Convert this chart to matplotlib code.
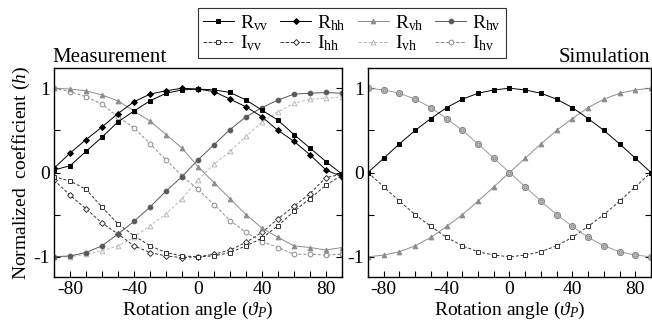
import matplotlib
matplotlib.use("Agg")
import matplotlib.pyplot as plt
from matplotlib.lines import Line2D

plt.rcParams['font.family'] = ['Liberation Serif', 'DejaVu Serif']
plt.rcParams['mathtext.fontset'] = 'custom'
plt.rcParams['mathtext.rm'] = 'Liberation Serif'
plt.rcParams['mathtext.it'] = 'Liberation Serif:italic'
plt.rcParams['axes.unicode_minus'] = False

angles = [-90, -80, -70, -60, -50, -40, -30, -20, -10, 0, 10, 20, 30, 40, 50, 60, 70, 80, 90]

# Measurement
m_Rvv = [0.03, 0.08, 0.25, 0.42, 0.60, 0.73, 0.85, 0.94, 0.98, 0.99, 0.98, 0.95, 0.86, 0.74, 0.62, 0.45, 0.29, 0.13, -0.02]
m_Rhh = [0.05, 0.23, 0.39, 0.54, 0.70, 0.84, 0.93, 0.97, 1.00, 0.99, 0.96, 0.87, 0.78, 0.66, 0.50, 0.37, 0.21, 0.03, -0.05]
m_Rvh = [1.00, 0.99, 0.97, 0.92, 0.85, 0.73, 0.61, 0.45, 0.29, 0.07, -0.12, -0.31, -0.50, -0.66, -0.77, -0.87, -0.89, -0.92, -0.89]
m_Rhv = [-1.00, -0.99, -0.95, -0.87, -0.73, -0.58, -0.41, -0.22, -0.05, 0.15, 0.33, 0.51, 0.66, 0.77, 0.86, 0.93, 0.94, 0.95, 0.94]
m_Ivv = [-0.05, -0.10, -0.20, -0.41, -0.61, -0.75, -0.87, -0.95, -0.99, -1.00, -0.99, -0.95, -0.87, -0.78, -0.63, -0.46, -0.31, -0.15, -0.03]
m_Ihh = [-0.09, -0.27, -0.43, -0.60, -0.73, -0.87, -0.95, -0.99, -1.01, -1.00, -0.97, -0.92, -0.83, -0.71, -0.55, -0.40, -0.25, -0.06, -0.02]
m_Ivh = [-1.00, -1.00, -0.97, -0.93, -0.87, -0.77, -0.63, -0.49, -0.31, -0.09, 0.10, 0.25, 0.43, 0.60, 0.72, 0.82, 0.87, 0.88, 0.90]
m_Ihv = [1.00, 0.96, 0.90, 0.81, 0.66, 0.53, 0.34, 0.15, -0.04, -0.20, -0.38, -0.57, -0.71, -0.82, -0.89, -0.97, -0.97, -0.98, -0.97]

# Simulation
s_Rvv = [0.00, 0.17, 0.34, 0.50, 0.64, 0.77, 0.87, 0.94, 0.98, 1.00, 0.98, 0.94, 0.87, 0.77, 0.64, 0.50, 0.34, 0.17, 0.00]
s_Ivv = [0.00, -0.17, -0.34, -0.50, -0.64, -0.77, -0.87, -0.94, -0.98, -1.00, -0.98, -0.94, -0.87, -0.77, -0.64, -0.50, -0.34, -0.17, 0.00]
s_Rvh = [-1.00, -0.98, -0.94, -0.87, -0.77, -0.64, -0.50, -0.34, -0.17, 0.00, 0.17, 0.34, 0.50, 0.64, 0.77, 0.87, 0.94, 0.98, 1.00]
s_Rhv = [1.00, 0.98, 0.94, 0.87, 0.77, 0.64, 0.50, 0.34, 0.17, 0.00, -0.17, -0.34, -0.50, -0.64, -0.77, -0.87, -0.94, -0.98, -1.00]

xticks = [-80, -40, 0, 40, 80]
xticklabels = ['-80', '-40', '0', '40', '80']
yticks = [-1, 0, 1]
yticklabels = ['-1', '0', '1']

C_RVH = '#8c8c8c'
C_RHV = '#5a5a5a'
C_IVH = '#b8b8b8'
C_IHV = '#8a8a8a'

styles = {
    'Rvv': dict(color='black', ls='-', marker='s', mfc='black', mec='black'),
    'Rhh': dict(color='black', ls='-', marker='D', mfc='black', mec='black', ms=3.0),
    'Rvh': dict(color=C_RVH, ls='-', marker='^', mfc=C_RVH, mec=C_RVH),
    'Rhv': dict(color=C_RHV, ls='-', marker='o', mfc=C_RHV, mec=C_RHV),
    'Ivv': dict(color='#333333', ls='--', marker='s', mfc='white', mec='#333333'),
    'Ihh': dict(color='#333333', ls='--', marker='D', mfc='white', mec='#333333', ms=3.0),
    'Ivh': dict(color=C_IVH, ls='--', marker='^', mfc='white', mec=C_IVH),
    'Ihv': dict(color=C_IHV, ls='--', marker='o', mfc='white', mec=C_IHV),
}
base = dict(lw=0.7, ms=3.4, mew=0.7, dashes=(3, 2))

fig = plt.figure(figsize=(6.52, 3.29), dpi=100)
ax1 = fig.add_axes([54/652, 52/329, 288/652, 209/329])
ax2 = fig.add_axes([368/652, 52/329, 283/652, 209/329])

def st(name):
    d = dict(base)
    d.update(styles[name])
    if d['ls'] == '-':
        d.pop('dashes')
    return d

for name, vals in [('Ihv', m_Ihv), ('Ivh', m_Ivh), ('Ihh', m_Ihh), ('Ivv', m_Ivv),
                   ('Rhv', m_Rhv), ('Rvh', m_Rvh), ('Rvv', m_Rvv), ('Rhh', m_Rhh)]:
    ax1.plot(angles, vals, **st(name))

ax2.plot(angles, s_Ivv, **st('Ivv'))
ax2.plot(angles, s_Rvh, **st('Rvh'))
ax2.plot(angles, s_Rhv, color='#9a9a9a', ls='-', lw=0.7, marker='o', ms=4.4,
         mfc='#c8c8c8', mec='#808080', mew=0.7)
ax2.plot(angles, s_Rhv, ls='none', marker='o', ms=2.2, mfc='none', mec='#8a8a8a', mew=0.6)
ax2.plot(angles, s_Rvv, **st('Rvv'))

for ax in (ax1, ax2):
    ax.set_xlim(-90, 90)
    ax.set_ylim(-1.24, 1.24)
    ax.set_xticks(xticks)
    ax.set_xticklabels(xticklabels)
    ax.set_xticks(range(-90, 91, 10), minor=True)
    ax.set_yticks(yticks)
    ax.set_yticklabels(yticklabels)
    ax.set_yticks([-0.5, 0.5], minor=True)
    ax.tick_params(axis='both', which='both', direction='in', labelsize=14,
                   length=4, width=0.8, pad=3)
    ax.tick_params(axis='y', which='both', right=True)
    for sp in ax.spines.values():
        sp.set_linewidth(1.0)
    ax.set_xlabel(r'Rotation angle ($\vartheta_{P}$)', fontsize=14, labelpad=1)

ax1.set_ylabel('Normalized  coefficient ($\\mathit{h}$)', fontsize=14, labelpad=1)

fig.text(52/652, 1 - 62/329, 'Measurement', fontsize=15, ha='left', va='baseline')
fig.text(650/652, 1 - 62/329, 'Simulation', fontsize=15, ha='right', va='baseline')

order = ['Rvv', 'Ivv', 'Rhh', 'Ihh', 'Rvh', 'Ivh', 'Rhv', 'Ihv']
labels = {'Rvv': r'R$_{\mathrm{vv}}$', 'Rhh': r'R$_{\mathrm{hh}}$', 'Rvh': r'R$_{\mathrm{vh}}$',
          'Rhv': r'R$_{\mathrm{hv}}$', 'Ivv': r'I$_{\mathrm{vv}}$', 'Ihh': r'I$_{\mathrm{hh}}$',
          'Ivh': r'I$_{\mathrm{vh}}$', 'Ihv': r'I$_{\mathrm{hv}}$'}
handles = [Line2D([], [], **st(n)) for n in order]
leg = fig.legend(handles, [labels[n] for n in order], ncol=4, loc='upper left',
                 bbox_to_anchor=(198/652, 1 - 8/329), fontsize=14, frameon=True,
                 fancybox=False, edgecolor='black', handlelength=1.6, handletextpad=0.3,
                 columnspacing=0.6, labelspacing=0.05, borderpad=0.25, borderaxespad=0)
leg.get_frame().set_linewidth(0.8)

fig.savefig('out.png', dpi=100)
